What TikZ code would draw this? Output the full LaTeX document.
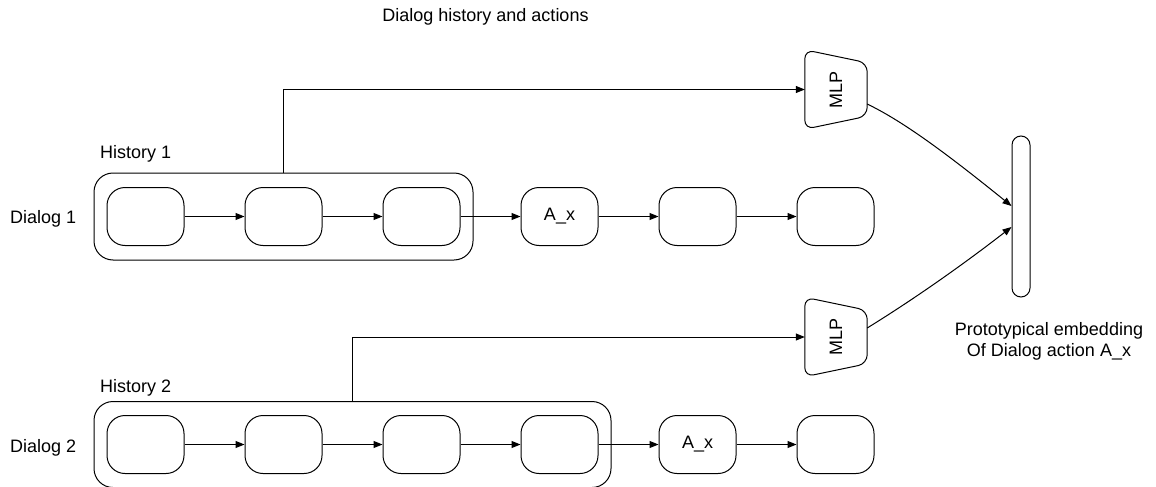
\documentclass[tikz,border=0pt]{standalone}
\usepackage{fontspec}
\usepackage{graphicx}
\setmainfont{Liberation Sans}
\usetikzlibrary{arrows.meta,calc,fit}

\tikzset{
  every node/.style={font=\fontsize{18}{21.6}\selectfont},
  line/.style={line width=1pt, draw=black},
  arr/.style={line, -{Triangle[length=9pt,width=7pt]}},
  state/.style={line, rounded corners=18, minimum width=77, minimum height=58, inner sep=0},
  histbox/.style={line, rounded corners=19, inner xsep=12.5, inner ysep=14},
  mlpbox/.style={minimum width=62, minimum height=79, inner sep=0},
  embbar/.style={line, rounded corners=9, minimum width=18, minimum height=161, inner sep=0},
  lbl/.style={inner sep=0}
}

\begin{document}
\begin{tikzpicture}[x=1pt, y=-1pt]
\useasboundingbox (0,0) rectangle (1156,487);

% title
\node[anchor=base] (title) at (485.5,22) {Dialog history and actions};

% dialog 1 states
\node[state] (a1) at (145.5,216.5) {};
\node[state] (a2) at (283.5,216.5) {};
\node[state] (a3) at (421.5,216.5) {};
\node[state] (a4) at (559.5,216.5) {A\_x};
\node[state] (a5) at (697.5,216.5) {};
\node[state] (a6) at (835.5,216.5) {};
\node[histbox, fit=(a1)(a3)] (h1) {};

% dialog 2 states
\node[state] (b1) at (145.5,444.5) {};
\node[state] (b2) at (283.5,444.5) {};
\node[state] (b3) at (421.5,444.5) {};
\node[state] (b4) at (559.5,444.5) {};
\node[state] (b5) at (697.5,444.5) {A\_x};
\node[state] (b6) at (835.5,444.5) {};
\node[histbox, inner ysep=13.5, fit=(b1)(b4)] (h2) {};

% labels
\node[lbl, anchor=base west] (hl1) at (100,158) {History 1};
\node[lbl, anchor=base west] (dl1) at (10,223) {Dialog 1};
\node[lbl, anchor=base west] (hl2) at (100,392) {History 2};
\node[lbl, anchor=base west] (dl2) at (10,452) {Dialog 2};

% chains
\foreach \p/\q in {a1/a2,a2/a3,a3/a4,a4/a5,a5/a6,b1/b2,b2/b3,b3/b4,b4/b5,b5/b6}
  \draw[arr] (\p) -- (\q);

% MLP encoders
\foreach \m/\y in {m1/89.5,m2/337} {
  \node[mlpbox] (\m) at (836,\y) {\rotatebox{90}{MLP}};
  \draw[line, rounded corners=9] (\m.west) -- (\m.north west)
    -- ($(\m.north east)+(0,13)$) -- ($(\m.south east)+(0,-13)$)
    -- (\m.south west) -- cycle;
}

\draw[arr] (h1.north) |- (m1.west);
\draw[arr] (h2.north) |- (m2.west);

% prototypical embedding
\node[embbar] (emb) at (1021,216.5) {};
\node[lbl, align=center, anchor=north] (proto) at (1049,322)
  {Prototypical embedding\\Of Dialog action A\_x};

\coordinate (s1) at ($(m1.east)+(0,14.5)$);
\coordinate (e1) at ($(emb.west)+(0,-10.5)$);
\coordinate (s2) at ($(m2.east)+(0,-9)$);
\coordinate (e2) at ($(emb.west)+(0,10.5)$);
\draw[arr] (s1) .. controls +(35,17) and +(-68,-55) .. (e1);
\draw[arr] (s2) .. controls +(47,-29) and +(-49,38) .. (e2);
\end{tikzpicture}
\end{document}
